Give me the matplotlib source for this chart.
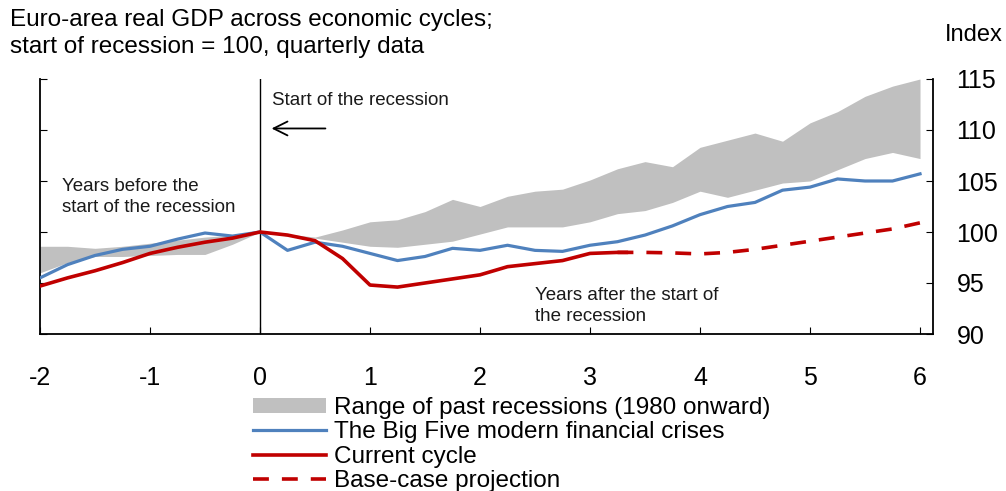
import numpy as np
import matplotlib
matplotlib.use("Agg")
import matplotlib.pyplot as plt
from matplotlib.patches import Patch
from matplotlib.lines import Line2D

plt.rcParams['font.family'] = ['Liberation Sans', 'DejaVu Sans']

# Quarterly x positions (years relative to start of recession)
x_all = [-2.0, -1.75, -1.5, -1.25, -1.0, -0.75, -0.5, -0.25, 0.0,
         0.25, 0.5, 0.75, 1.0, 1.25, 1.5, 1.75, 2.0, 2.25, 2.5, 2.75,
         3.0, 3.25, 3.5, 3.75, 4.0, 4.25, 4.5, 4.75, 5.0, 5.25, 5.5, 5.75, 6.0]

range_upper = [98.6, 98.6, 98.4, 98.6, 98.9, 99.2, 99.5, 99.7, 100.0,
               99.8, 99.5, 100.2, 101.0, 101.2, 102.0, 103.2, 102.5, 103.5, 104.0, 104.2,
               105.1, 106.2, 106.9, 106.4, 108.3, 109.0, 109.7, 108.9, 110.7, 111.8, 113.3, 114.3, 115.0]
range_lower = [96.0, 97.0, 97.6, 97.6, 97.7, 97.8, 97.8, 98.8, 100.0,
               99.6, 99.4, 99.0, 98.6, 98.5, 98.8, 99.1, 99.8, 100.5, 100.5, 100.5,
               101.0, 101.8, 102.1, 102.9, 104.0, 103.4, 104.1, 104.8, 105.0, 106.1, 107.2, 107.8, 107.2]
big_five = [95.5, 96.8, 97.7, 98.3, 98.6, 99.3, 99.9, 99.6, 100.0,
            98.2, 99.0, 98.6, 97.9, 97.2, 97.6, 98.4, 98.2, 98.7, 98.2, 98.1,
            98.7, 99.05, 99.7, 100.6, 101.7, 102.5, 102.9, 104.1, 104.4, 105.2, 105.0, 105.0, 105.7]

x_current = [-2.0, -1.75, -1.5, -1.25, -1.0, -0.75, -0.5, -0.25, 0.0,
             0.25, 0.5, 0.75, 1.0, 1.25, 1.5, 1.75, 2.0, 2.25, 2.5, 2.75, 3.0, 3.25, 3.33]
current = [94.7, 95.5, 96.2, 97.0, 97.9, 98.5, 99.0, 99.4, 100.0,
           99.7, 99.15, 97.4, 94.8, 94.6, 95.0, 95.4, 95.8, 96.6, 96.9, 97.2, 97.9, 98.0, 98.0]

x_proj = [3.25, 3.5, 3.75, 4.0, 4.25, 4.5, 4.75, 5.0, 5.25, 5.5, 5.75, 6.0]
projection = [98.0, 98.0, 97.95, 97.85, 98.0, 98.3, 98.7, 99.1, 99.5, 99.9, 100.3, 100.9]

x_ticks = [-2, -1, 0, 1, 2, 3, 4, 5, 6]
y_ticks = [90, 95, 100, 105, 110, 115]

GRAY = '#C0C0C0'
BLUE = '#4F81BD'
RED = '#C00000'
TXT = '#1a1a1a'

fig = plt.figure(figsize=(10.06, 4.91), dpi=100)
ax = fig.add_axes([40/1006, 1-334/491, (933-40)/1006, (334-79)/491])

ax.fill_between(x_all, range_lower, range_upper, color=GRAY, linewidth=0, zorder=1)
ax.plot(x_all, big_five, color=BLUE, lw=2.3, zorder=3, solid_joinstyle='round')
ax.plot(x_current, current, color=RED, lw=2.6, zorder=4, solid_joinstyle='round')
proj_line, = ax.plot(x_proj, projection, color=RED, lw=2.6, zorder=4)
proj_line.set_dashes((4.4, 3.6))

ax.axvline(0, color='black', lw=1.0, zorder=2)

ax.set_xlim(-2, 6.118)
ax.set_ylim(90, 115)
ax.set_xticks(x_ticks)
ax.set_xticklabels([str(v) for v in x_ticks])
ax.set_yticks(y_ticks)
ax.yaxis.tick_right()
ax.tick_params(axis='y', which='both', direction='in', length=5, labelsize=18,
               pad=17, left=True, right=True, labelleft=False, labelright=True, colors='black')
ax.tick_params(axis='x', direction='in', length=5, labelsize=18, pad=23)
ax.spines['top'].set_visible(False)
for s in ['left', 'right', 'bottom']:
    ax.spines[s].set_linewidth(1.3)

ax.text(0.11, 112.9, 'Start of the recession', fontsize=13.5, color=TXT, va='center', ha='left')
ax.annotate('', xy=(0.08, 110.15), xytext=(0.62, 110.15),
            arrowprops=dict(arrowstyle='->,head_length=1.0,head_width=0.5', color='black', lw=1.3))
ax.text(-1.8, 103.4, 'Years before the\nstart of the recession', fontsize=13.5, color=TXT,
        va='center', ha='left', linespacing=1.3)
ax.text(2.5, 92.75, 'Years after the start of\nthe recession', fontsize=13.5, color=TXT,
        va='center', ha='left', linespacing=1.3)

fig.text(10/1006, 1-20/491, 'Euro-area real GDP across economic cycles;', fontsize=17.5,
         va='center', ha='left')
fig.text(10/1006, 1-47.5/491, 'start of recession = 100, quarterly data', fontsize=17.5,
         va='center', ha='left')
fig.text(945/1006, 1-35/491, 'Index', fontsize=17, va='center', ha='left')

handles = [Patch(facecolor=GRAY, edgecolor='none'),
           Line2D([], [], color=BLUE, lw=2.3),
           Line2D([], [], color=RED, lw=2.6),
           Line2D([], [], color=RED, lw=2.6, dashes=(4.4, 3.6))]
labels = ['Range of past recessions (1980 onward)',
          'The Big Five modern financial crises',
          'Current cycle',
          'Base-case projection']
leg = fig.legend(handles, labels, loc='upper left', bbox_to_anchor=(253/1006, 1-397/491),
                 frameon=False, fontsize=17.5, handlelength=3.0, handleheight=0.55,
                 handletextpad=0.33, labelspacing=0.1, borderaxespad=0, borderpad=0)

fig.savefig('out.png', dpi=100)
